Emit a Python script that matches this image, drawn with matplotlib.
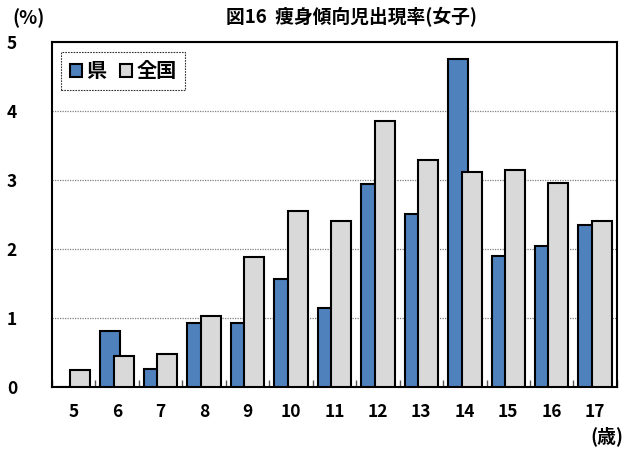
import numpy as np
import matplotlib
matplotlib.use("Agg")
import matplotlib.pyplot as plt
from matplotlib.ticker import FixedLocator

plt.rcParams['font.family'] = ['Noto Sans CJK JP', 'DejaVu Sans']

# data
ages = ['5', '6', '7', '8', '9', '10', '11', '12', '13', '14', '15', '16', '17']
ken = [0.0, 0.80, 0.25, 0.93, 0.93, 1.56, 1.14, 2.94, 2.51, 4.75, 1.89, 2.04, 2.34]
zenkoku = [0.24, 0.45, 0.47, 1.02, 1.88, 2.55, 2.41, 3.86, 3.29, 3.11, 3.15, 2.95, 2.40]

x = np.arange(len(ages))
w = 0.46
off = 0.155

fig = plt.figure(figsize=(6.4, 4.49), dpi=100)
ax = fig.add_axes([0.081, 0.139, 0.883, 0.767])

ax.bar(x - off, ken, w, color='#4F81BD', edgecolor='black', linewidth=1.5,
       label='県', zorder=3)
ax.bar(x + off, zenkoku, w, color='#D9D9D9', edgecolor='black', linewidth=1.5,
       label='全国', zorder=4)

ax.set_xlim(-0.5, len(ages) - 0.5)
ax.set_ylim(0, 5)
ax.set_yticks([0, 1, 2, 3, 4, 5])
ax.yaxis.grid(True, linestyle=(0, (1, 1)), color='#808080', linewidth=0.9, zorder=0)
ax.set_axisbelow(True)

ax.set_xticks(x)
ax.set_xticklabels(ages, fontsize=12.5, fontweight='bold')
ax.tick_params(axis='x', which='major', length=0, pad=12)
ax.tick_params(axis='y', length=0, pad=25, labelsize=12.5)
for t in ax.get_yticklabels():
    t.set_fontweight('bold')
ax.xaxis.set_minor_locator(FixedLocator(np.arange(-0.5, len(ages), 1.0)))
ax.tick_params(axis='x', which='minor', direction='in', length=5, width=1, color='#555555')

for s in ax.spines.values():
    s.set_linewidth(1.5)
    s.set_color('black')

leg = ax.legend(loc='upper left', bbox_to_anchor=(0.017, 0.972), ncol=2,
                prop={'size': 14.5, 'weight': 'bold'}, handlelength=0.6, handleheight=0.6,
                handletextpad=0.2, columnspacing=0.7, fancybox=False, borderpad=0.42,
                borderaxespad=0, framealpha=1)
leg.get_frame().set_edgecolor('#333333')
leg.get_frame().set_linestyle((0, (1.5, 1)))
leg.get_frame().set_linewidth(0.8)

fig.text(0.550, 0.962, '図16  痩身傾向児出現率(女子)', ha='center', va='center',
         fontsize=13.5, fontweight='bold')
fig.text(0.045, 0.96, '(%)', ha='center', va='center', fontsize=13.5, fontweight='bold')
fig.text(0.948, 0.028, '(歳)', ha='center', va='center', fontsize=13.5, fontweight='bold')

fig.savefig('out.png', dpi=100)
